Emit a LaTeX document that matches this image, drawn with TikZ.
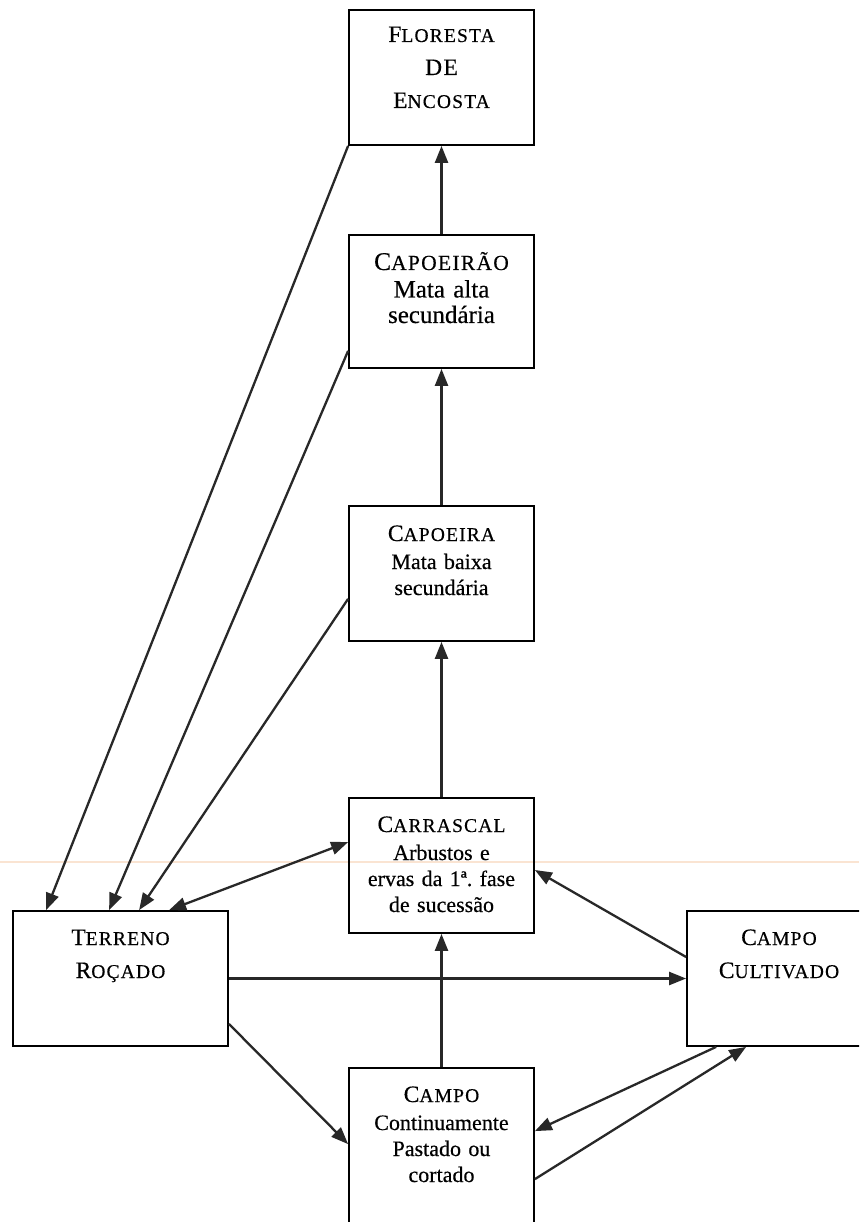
\documentclass[tikz,border=0pt]{standalone}
\usepackage{fontspec}
\setmainfont[FakeBold=0.4]{Liberation Serif}
\newfontfamily\capsfont[LetterSpace=6,FakeBold=0.4]{Liberation Serif}
\usetikzlibrary{arrows.meta,calc}
\definecolor{arrowgray}{RGB}{40,40,40}
\definecolor{scanline}{RGB}{250,228,210}
\newcommand\smc[2]{{\capsfont\fontsize{23.5}{26}\selectfont #1\fontsize{19.5}{26}\selectfont #2}}
\newcommand\smcbig[2]{{\capsfont\fontsize{25.5}{26}\selectfont #1\fontsize{21.5}{26}\selectfont #2}}
\frenchspacing
\begin{document}
\begin{tikzpicture}[x=1pt,y=-1pt,
  box/.style={draw=black, line width=1.8pt, inner sep=0pt, minimum width=185pt, minimum height=135pt},
  lbl/.style={anchor=base, text width=190pt, align=center, inner sep=0pt, font=\fontsize{22}{26}\selectfont},
  conn/.style={line width=2.3pt, draw=arrowgray, -{Triangle[length=17pt,width=13pt]}},
  dconn/.style={line width=2.3pt, draw=arrowgray, {Triangle[length=17pt,width=13pt]}-{Triangle[length=17pt,width=13pt]}}]
\useasboundingbox (0,0) rectangle (859,1222);
\clip (0,0) rectangle (859,1222);
\fill[white] (0,0) rectangle (859,1222);
\draw[scanline, line width=1.5pt] (0,862) -- (859,862);

% boxes
\node[box] (flor) at (441.5,77.5) {};
\node[box, minimum height=133pt] (cpa) at (441.5,301.5) {};
\node[box] (cpr) at (441.5,573.5) {};
\node[box] (car) at (441.5,865.5) {};
\node[box, minimum height=180pt] (cam) at (441.5,1158) {};
\node[box, minimum width=215pt] (terr) at (120.5,978.5) {};
\node[box, minimum width=184pt] (cul) at (779,978.5) {};

% labels
\node[lbl] (florT) at (441.5,42) {\smc{F}{LORESTA}\\[7pt]{\capsfont\fontsize{23.5}{26}\selectfont DE}\\[7pt]\smc{E}{NCOSTA}};
\node[lbl, font=\fontsize{25}{25.5}\selectfont] (cpaT) at (441.5,270) {\smcbig{C}{APOEIRÃO}\\[2pt]Mata alta\\secundária};
\node[lbl] (cprT) at (441.5,541) {\smc{C}{APOEIRA}\\[2pt]Mata baixa\\secundária};
\node[lbl] (carT) at (441.5,832) {\smc{C}{ARRASCAL}\\[2pt]Arbustos e\\ervas da 1ª. fase\\de sucessão};
\node[lbl] (camT) at (441.5,1102) {\smc{C}{AMPO}\\[2pt]Continuamente\\Pastado ou\\cortado};
\node[lbl] (terrT) at (120.5,945) {\smc{T}{ERRENO}\\[7pt]\smc{R}{OÇADO}};
\node[lbl] (culT) at (779,945) {\smc{C}{AMPO}\\[7pt]\smc{C}{ULTIVADO}};

% vertical succession
\draw[conn] (cpa.north) -- (flor.south);
\draw[conn] (cpr.north) -- (cpa.south);
\draw[conn] (car.north) -- (cpr.south);
\draw[conn] (cam.north) -- (car.south);

% to Terreno Rocado
\draw[conn] (flor.south west) -- ($(terr.north west)+(34,0)$);
\draw[conn] ($(cpa.south west)+(0,-18)$) -- ($(terr.north west)+(97,0)$);
\draw[conn] ($(cpr.south west)+(0,-43)$) -- ($(terr.north west)+(127,0)$);
\draw[dconn] ($(terr.north west)+(157,0)$) -- ($(car.north west)+(0,45)$);

% others
\draw[conn] (terr.east) -- (cul.west);
\draw[conn] ($(cul.west)+(0,-21.5)$) -- ($(car.east)+(0,4.5)$);
\draw[conn] ($(terr.south east)+(0,-23)$) -- ($(cam.north west)+(0,77)$);
\draw[conn] ($(cul.south west)+(30,0)$) -- ($(cam.north east)+(0,64)$);
\draw[conn] ($(cam.north east)+(0,112)$) -- ($(cul.south west)+(60,0)$);
\end{tikzpicture}
\end{document}
